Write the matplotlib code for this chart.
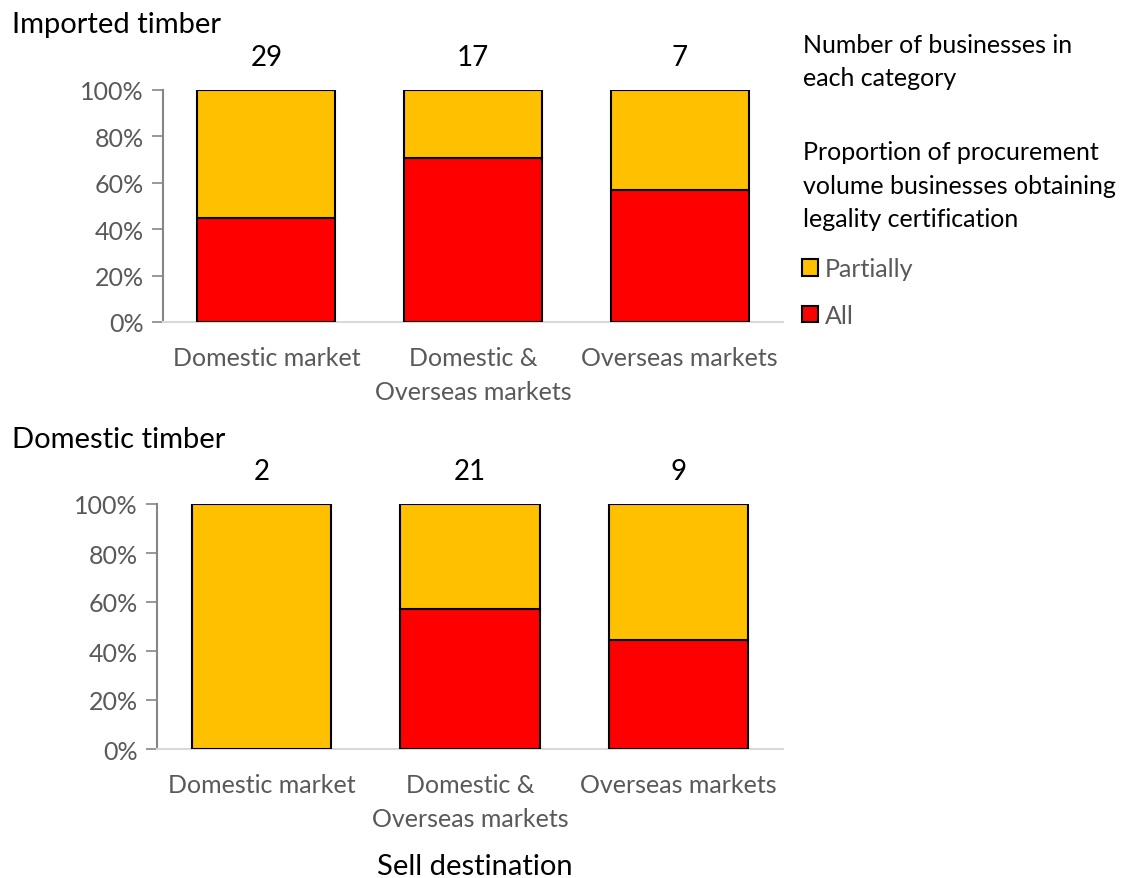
import matplotlib
matplotlib.use("Agg")
import matplotlib.pyplot as plt
from matplotlib.patches import Patch

plt.rcParams['font.family'] = ['Lato', 'DejaVu Sans']

categories = ["Domestic market", "Domestic &\nOverseas markets", "Overseas markets"]

# share of procurement volume (%) with legality certification
imported_all = [44.8, 70.6, 57.1]
imported_partial = [55.2, 29.4, 42.9]
imported_counts = [29, 17, 7]

domestic_all = [0.0, 57.1, 44.4]
domestic_partial = [100.0, 42.9, 55.6]
domestic_counts = [2, 21, 9]

RED = "#ff0000"
AMBER = "#ffc000"
GREY_TXT = "#595959"

fig = plt.figure(figsize=(11.29, 8.79), dpi=100)
W, H = 1129, 879


def panel(left, right, top, bottom, all_vals, part_vals, counts, title, title_y):
    ax = fig.add_axes([left / W, 1 - bottom / H, (right - left) / W, (bottom - top) / H])
    x = range(len(categories))
    ax.bar(x, all_vals, width=0.667, color=RED, edgecolor="black", linewidth=1.5, zorder=3)
    ax.bar(x, part_vals, width=0.667, bottom=all_vals, color=AMBER, edgecolor="black",
           linewidth=1.5, zorder=3)
    ax.set_xlim(-0.5, 2.5)
    ax.set_ylim(0, 100)
    ax.set_yticks(range(0, 101, 20))
    ax.set_yticklabels([f"{v}%" for v in range(0, 101, 20)])
    ax.set_xticks(list(x))
    ax.set_xticklabels(categories, linespacing=1.6)
    ax.tick_params(axis="y", length=8, width=1.2, color="#868686", labelcolor=GREY_TXT,
                   labelsize=18, pad=6)
    ax.tick_params(axis="x", length=0, labelcolor=GREY_TXT, labelsize=18, pad=17)
    for s in ("top", "right"):
        ax.spines[s].set_visible(False)
    ax.spines["left"].set_color("#868686")
    ax.spines["left"].set_linewidth(1.5)
    ax.spines["bottom"].set_color("#d9d9d9")
    ax.spines["bottom"].set_linewidth(1.5)
    # number of businesses above each bar
    for i, n in enumerate(counts):
        ax.annotate(str(n), (i, 100), xytext=(0, 24), textcoords="offset points",
                    ha="center", va="center", fontsize=20, color="black",
                    annotation_clip=False)
    fig.text(12 / W, 1 - title_y / H, title, ha="left", va="center", fontsize=21)
    return ax


ax1 = panel(163, 783, 91, 323, imported_all, imported_partial, imported_counts,
            "Imported timber", 25)
ax2 = panel(157, 783, 505, 750, domestic_all, domestic_partial, domestic_counts,
            "Domestic timber", 440)

fig.text(475 / W, 1 - 867 / H, "Sell destination", ha="center", va="center", fontsize=21)

fig.text(803 / W, 1 - 62 / H, "Number of businesses in\neach category", ha="left",
         va="center", fontsize=18, linespacing=1.55)
fig.text(803 / W, 1 - 186 / H,
         "Proportion of procurement\nvolume businesses obtaining\nlegality certification",
         ha="left", va="center", fontsize=18, linespacing=1.55)

handles = [Patch(facecolor=AMBER, edgecolor="black", linewidth=1.5, label="Partially"),
           Patch(facecolor=RED, edgecolor="black", linewidth=1.5, label="All")]
fig.legend(handles=handles, loc="upper left", bbox_to_anchor=(792 / W, 1 - 248 / H),
           frameon=False, fontsize=18, labelcolor=GREY_TXT, handlelength=0.65,
           handleheight=0.65, handletextpad=0.25, labelspacing=0.95, borderaxespad=0)

fig.savefig("out.png", dpi=100)
